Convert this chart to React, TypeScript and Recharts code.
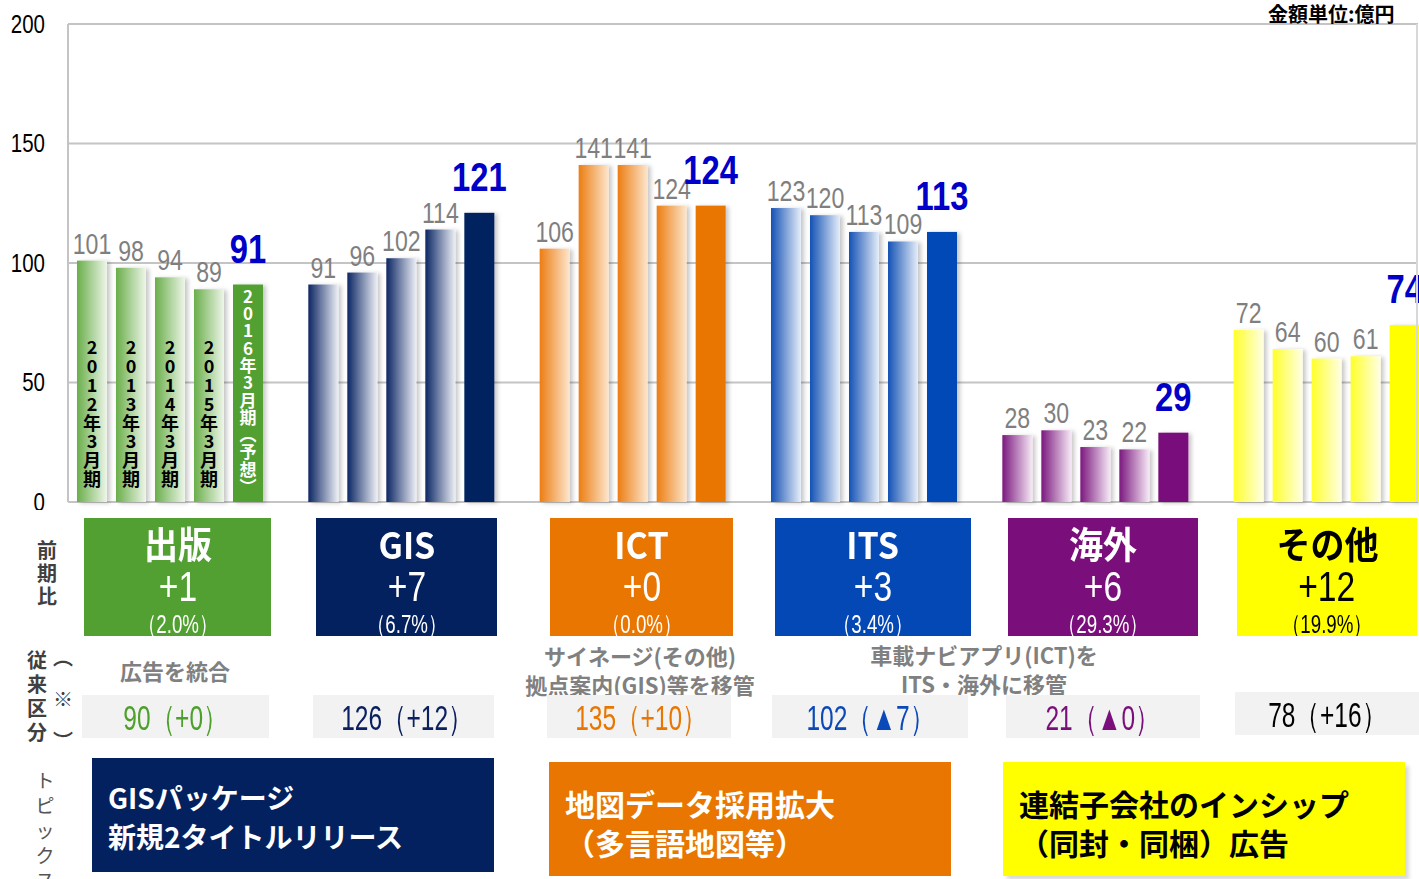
import React from 'react'
import { BarChart, Bar, Cell, XAxis, YAxis, CartesianGrid, LabelList } from 'recharts'

const segments = ['出版', 'GIS', 'ICT', 'ITS', '海外', 'その他']
const fy2012 = [101, 91, 106, 123, 28, 72]
const fy2013 = [98, 96, 141, 120, 30, 64]
const fy2014 = [94, 102, 141, 113, 23, 60]
const fy2015 = [89, 114, 124, 109, 22, 61]
const fy2016 = [91, 121, 124, 113, 29, 74]
const periodKeys = ['fy2012', 'fy2013', 'fy2014', 'fy2015', 'fy2016']
const periodLabels = ['2012年3月期', '2013年3月期', '2014年3月期', '2015年3月期', '2016年3月期（予想）']
const yTicks = [0, 50, 100, 150, 200]

const yoyDiff = ['+1', '+7', '+0', '+3', '+6', '+12']
const yoyPct = ['（2.0%）', '（6.7%）', '（0.0%）', '（3.4%）', '（29.3%）', '（19.9%）']
const oldBasis = ['90（+0）', '126（+12）', '135（+10）', '102（▲7）', '21（▲0）', '78（+16）']
const topics = [
  ['GISパッケージ', '新規2タイトルリリース'],
  ['地図データ採用拡大', '（多言語地図等）'],
  ['連結子会社のインシップ', '（同封・同梱）広告'],
]

const solid = ['#52a032', '#04215f', '#e87600', '#0448b6', '#7a0e7b', '#ffff00']
const gradFrom = ['#6aae4a', '#0b2664', '#ec7d12', '#1552b5', '#7b187e', '#ffff2a']
const gradTo = ['#eef6ea', '#eef0f6', '#fde6cd', '#e6eef9', '#f7eaf7', '#ffffe6']
const basisColor = ['#4ea02c', '#0a2060', '#e87600', '#0b48b8', '#7a0f7b', '#000000']

const SANS = "'Liberation Sans', Arial, sans-serif"
const JP = "'Noto Sans CJK JP', 'Noto Sans', sans-serif"
const SQUEEZE = 0.8

const data = segments.map((name, i) => ({
  name,
  fy2012: fy2012[i],
  fy2013: fy2013[i],
  fy2014: fy2014[i],
  fy2015: fy2015[i],
  fy2016: fy2016[i],
}))

const boxX = [84, 316, 550, 775, 1008, 1237]
const boxW = [187, 181, 183, 196, 190, 180]
const basisX = [82, 313, 547, 772, 1006, 1235]
const basisW = [187, 181, 184, 196, 194, 184]

const vertical = (s: string) => s.replace('（', '︵').replace('）', '︶').split('')
const squeeze = (cx: number, s = SQUEEZE) => `translate(${cx},0) scale(${s},1) translate(${-cx},0)`

function Narrow({ children, s = SQUEEZE }: any) {
  return <span style={{ display: 'inline-block', transform: `scaleX(${s})`, whiteSpace: 'nowrap' }}>{children}</span>
}

function ShadowBar(p: any) {
  if (!p.height) return null
  return <rect x={p.x} y={p.y} width={p.width} height={p.height} fill={p.fill} filter="url(#barShadow)" />
}

function YTick(p: any) {
  const { y, payload } = p
  return (
    <text x={45} y={y + 9} textAnchor="end" fill="#000" fontSize={25} fontFamily={SANS} transform={squeeze(45, 0.82)}>
      {payload.value}
    </text>
  )
}

function valueLabel(forecast: boolean) {
  return (p: any) => {
    const { x, y, width, value } = p
    const cx = x + width / 2
    return (
      <text x={cx} y={forecast ? y - 22 : y - 7} textAnchor="middle" transform={squeeze(cx, forecast ? 0.82 : 0.77)}
        fill={forecast ? '#0000c8' : '#7f7f7f'} fontSize={forecast ? 40 : 30}
        fontWeight={forecast ? 700 : 400} fontFamily={SANS}>
        {value}
      </text>
    )
  }
}

function periodLabel(k: number) {
  return (p: any) => {
    if (p.index !== 0) return null
    const chars = vertical(periodLabels[k])
    const bottom = p.y + p.height
    const forecast = k === 4
    const step = forecast ? 17.3 : 18.8
    const base = forecast ? bottom - 9 : bottom - 16
    return (
      <g>
        {chars.map((c, j) => (
          <text key={j} x={p.x + p.width / 2} y={base - (chars.length - 1 - j) * step}
            textAnchor="middle" fontSize={forecast ? 17 : 18} fontWeight={700}
            fill={forecast ? '#ffffff' : '#000000'} fontFamily={JP}>
            {c}
          </text>
        ))}
      </g>
    )
  }
}

function VText({ text, x, y, step, size, color, weight }: any) {
  return (
    <>
      {text.split('').map((c: string, j: number) => (
        <div key={j} style={{ position: 'absolute', left: x - size / 2, top: y + j * step, width: size,
          textAlign: 'center', fontSize: size, lineHeight: `${size}px`, color, fontWeight: weight }}>
          {c}
        </div>
      ))}
    </>
  )
}

export default function App() {
  return (
    <div style={{ position: 'absolute', left: 0, top: 0, width: 1419, height: 879, overflow: 'hidden',
      background: '#fff', fontFamily: JP }}>
      <BarChart width={1419} height={510} data={data} margin={{ top: 24, right: 1, bottom: 8, left: 0 }}
        barSize={30} barGap={9}>
        <defs>
          {segments.map((s, i) => (
            <linearGradient key={s} id={`grad${i}`} x1="0" y1="0" x2="1" y2="0">
              <stop offset="0%" stopColor={gradFrom[i]} />
              <stop offset="100%" stopColor={gradTo[i]} />
            </linearGradient>
          ))}
          <filter id="barShadow" x="-20%" y="-5%" width="150%" height="110%">
            <feDropShadow dx="3" dy="1" stdDeviation="2" floodColor="#000" floodOpacity="0.22" />
          </filter>
        </defs>
        <CartesianGrid vertical={false} stroke="#c4c4c4" strokeWidth={2} />
        <XAxis dataKey="name" hide padding={{ left: -14, right: -24 }} />
        <YAxis domain={[0, 200]} ticks={yTicks} width={68} axisLine={{ stroke: '#c4c4c4', strokeWidth: 2 }}
          tickLine={false} tick={YTick} interval={0} />
        {periodKeys.map((key, k) => (
          <Bar key={key} dataKey={key} isAnimationActive={false} shape={ShadowBar}>
            {segments.map((s, i) => (
              <Cell key={s} fill={k === 4 ? solid[i] : `url(#grad${i})`} />
            ))}
            <LabelList dataKey={key} content={valueLabel(k === 4)} />
            <LabelList dataKey={key} content={periodLabel(k)} />
          </Bar>
        ))}
      </BarChart>

      <div style={{ position: 'absolute', left: 1416, top: 24, width: 2, height: 478, background: '#d8d8d8' }} />
      <div style={{ position: 'absolute', left: 1268, top: 1, fontSize: 20, fontWeight: 700, color: '#000',
        lineHeight: '26px' }}>金額単位:億円</div>

      <VText text="前期比" x={47} y={540} step={23} size={20} color="#404040" weight={700} />
      <VText text="従来区分" x={37} y={650} step={24} size={20} color="#404040" weight={700} />
      <VText text="︵※︶" x={63} y={647} step={42} size={20} color="#404040" weight={700} />
      <VText text="トピックス" x={45} y={770} step={25} size={19} color="#555" weight={400} />

      {segments.map((s, i) => (
        <div key={s} style={{ position: 'absolute', left: boxX[i], top: 518, width: boxW[i], height: 118,
          background: solid[i], color: i === 5 ? '#000' : '#fff', textAlign: 'center', overflow: 'hidden' }}>
          <div style={{ position: 'absolute', left: 0, right: 0, top: 3, fontSize: 37, fontWeight: 700,
            lineHeight: '44px' }}><Narrow s={0.92}>{s}</Narrow></div>
          <div style={{ position: 'absolute', left: 0, right: 0, top: 46, fontSize: 42, fontFamily: SANS,
            lineHeight: '46px' }}><Narrow>{yoyDiff[i]}</Narrow></div>
          <div style={{ position: 'absolute', left: 0, right: 0, top: 91, fontSize: 26, fontFamily: SANS,
            lineHeight: '30px' }}><Narrow s={0.72}>{yoyPct[i]}</Narrow></div>
        </div>
      ))}

      <div style={{ position: 'absolute', left: 75, width: 200, top: 656, textAlign: 'center', fontSize: 22,
        fontWeight: 700, color: '#808080', lineHeight: '28px' }}>広告を統合</div>
      <div style={{ position: 'absolute', left: 490, width: 300, top: 641, textAlign: 'center', fontSize: 22,
        fontWeight: 700, color: '#808080', lineHeight: '29px' }}>サイネージ(その他)<br />拠点案内(GIS)等を移管</div>
      <div style={{ position: 'absolute', left: 834, width: 300, top: 640, textAlign: 'center', fontSize: 22,
        fontWeight: 700, color: '#808080', lineHeight: '29px' }}>車載ナビアプリ(ICT)を<br />ITS・海外に移管</div>

      {segments.map((s, i) => (
        <div key={s} style={{ position: 'absolute', left: basisX[i], top: i === 5 ? 692 : 695, width: basisW[i],
          height: 43, background: '#f2f2f2', color: basisColor[i], textAlign: 'center', fontSize: 35,
          fontFamily: SANS, lineHeight: '46px' }}><Narrow s={0.7}>{oldBasis[i]}</Narrow></div>
      ))}

      {topics.map((t, i) => {
        const left = [92, 549, 1003][i]
        const top = [758, 762, 762][i]
        const bg = [solid[1], solid[2], solid[5]][i]
        return (
          <div key={i} style={{ position: 'absolute', left, top, width: 402, height: 114, background: bg,
            color: i === 2 ? '#000' : '#fff', fontWeight: 700, fontSize: i === 0 ? 28 : 30,
            lineHeight: '39px', boxSizing: 'border-box', padding: i === 0 ? '20px 16px' : '22px 16px',
            boxShadow: i === 2 ? '4px 4px 4px rgba(0,0,0,0.15)' : 'none' }}>
            {t[0]}<br />{t[1]}
          </div>
        )
      })}
    </div>
  )
}
